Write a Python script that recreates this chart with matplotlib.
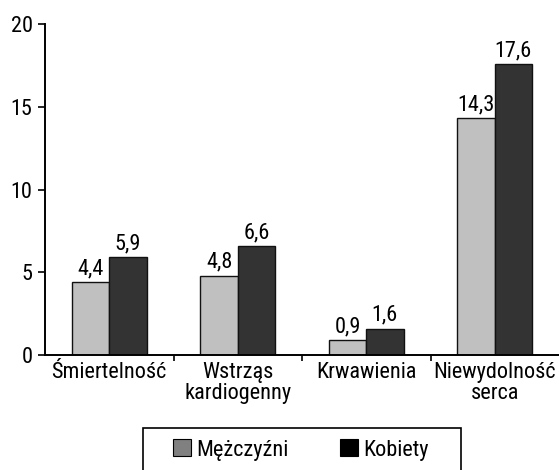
import matplotlib.pyplot as plt
from matplotlib.patches import Patch, Rectangle
import numpy as np

kategorie = ['Śmiertelność', 'Wstrząs\nkardiogenny', 'Krwawienia', 'Niewydolność\nserca']
mezczyzni = [4.4, 4.8, 0.9, 14.3]
kobiety = [5.9, 6.6, 1.6, 17.6]
yticks = [0, 5, 10, 15, 20]

plt.rcParams['font.family'] = ['Liberation Sans Narrow', 'Roboto Condensed', 'Open Sans Condensed',
                               'Liberation Sans', 'DejaVu Sans']
plt.rcParams['font.size'] = 16

fig = plt.figure(figsize=(5.59, 4.70), dpi=100)
W, H = 559, 470
ax = fig.add_axes([45 / W, 1 - 355 / H, 1 - 45 / W, (355 - 24) / H])

x = np.arange(len(kategorie))
w = 0.29
b1 = ax.bar(x - w / 2, mezczyzni, w, color='#c0c0c0', edgecolor='#111111', linewidth=1)
b2 = ax.bar(x + w / 2, kobiety, w, color='#333333', edgecolor='#111111', linewidth=1)

for bars, vals in ((b1, mezczyzni), (b2, kobiety)):
    for r, v in zip(bars, vals):
        ax.annotate(f'{v:.1f}'.replace('.', ','), (r.get_x() + r.get_width() / 2, v),
                    textcoords='offset points', xytext=(0, 2), ha='center', va='bottom',
                    fontsize=16)

ax.set_xlim(-0.5, 3.5)
ax.set_ylim(0, 20)
ax.set_yticks(yticks)
ax.set_xticks(x)
ax.set_xticklabels(kategorie, linespacing=1.0)
ax.set_xticks([0.5, 1.5, 2.5], minor=True)
ax.tick_params(axis='x', which='major', length=0, pad=5)
ax.tick_params(axis='x', which='minor', length=4, width=1.2, direction='out')
ax.tick_params(axis='y', length=5, width=1.2, direction='out', pad=4)

for s in ('top', 'right'):
    ax.spines[s].set_visible(False)
ax.spines['left'].set_linewidth(1.4)
ax.spines['bottom'].set_linewidth(1.4)

# ramka legendy (wychodzi poza dolną krawędź)
fig.patches.append(Rectangle((143 / W, -0.05), (461 - 143) / W, 0.05 + (470 - 428) / H,
                             transform=fig.transFigure, fill=False, edgecolor='black',
                             linewidth=1.2))
uchwyty = [Patch(facecolor='#808080', edgecolor='black', linewidth=0.8, label='Mężczyźni'),
           Patch(facecolor='#000000', edgecolor='black', linewidth=0.8, label='Kobiety')]
fig.legend(handles=uchwyty, loc='center', bbox_to_anchor=(301 / W, 1 - 450 / H), ncol=2,
           frameon=False, fontsize=16, handlelength=0.8, handleheight=0.8,
           handletextpad=0.25, columnspacing=2.3)

fig.savefig('out.png', dpi=100)
